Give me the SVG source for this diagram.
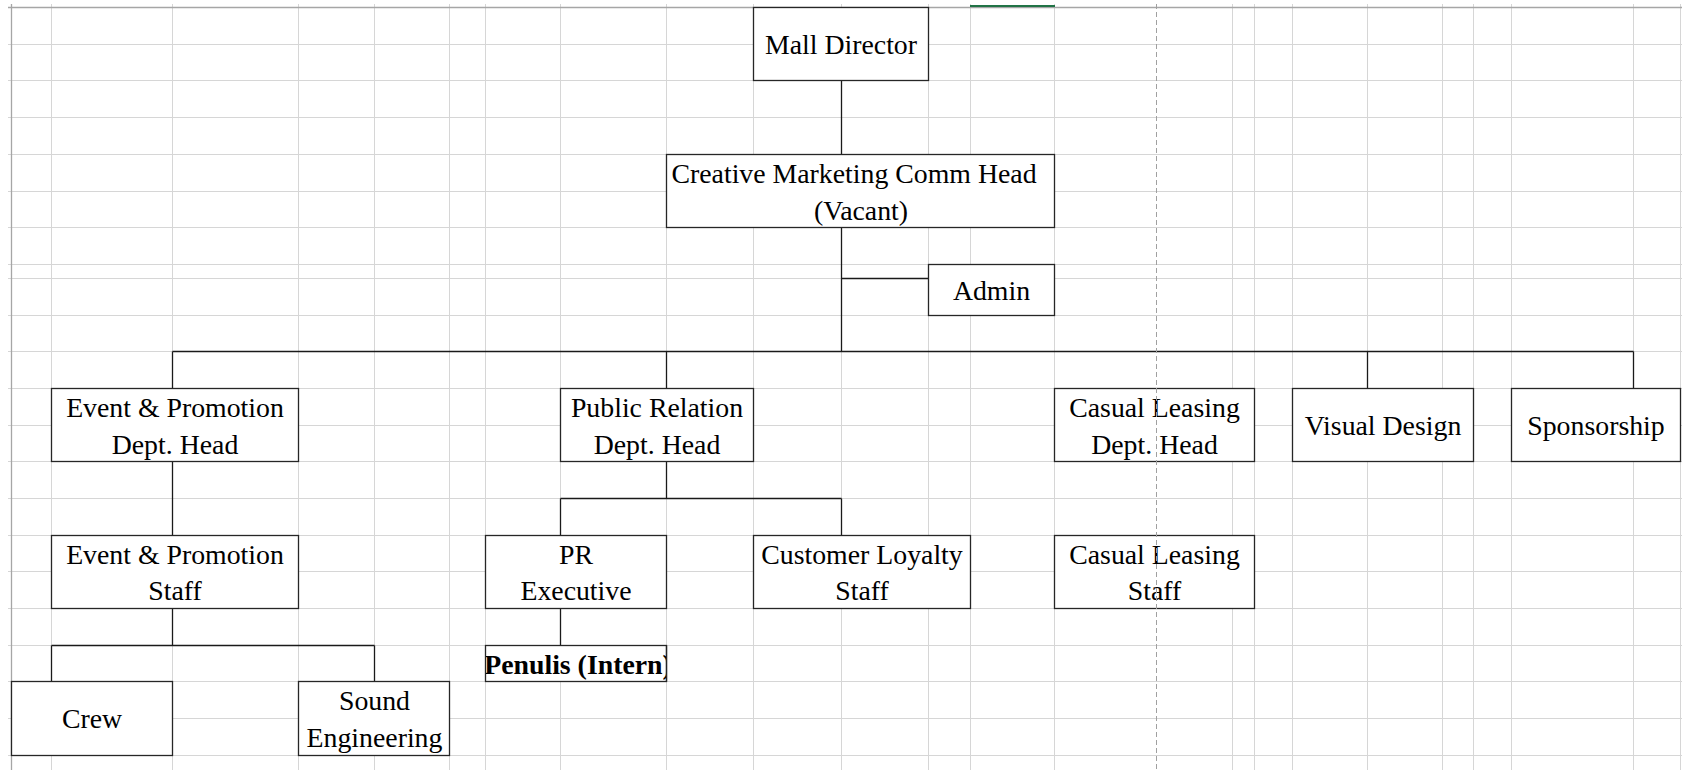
<svg xmlns="http://www.w3.org/2000/svg" width="1682" height="770" viewBox="0 0 1682 770">
<defs>
<style>
.grid{stroke:#d6d6d6;stroke-width:1;fill:none}
.border{stroke:#a6a6a6;stroke-width:1.3;fill:none}
.box{fill:#fff;stroke:#262626;stroke-width:1.3}
.conn{stroke:#1a1a1a;stroke-width:1.3;fill:none}
text{font-family:"Liberation Serif","Times New Roman",serif;font-size:27.8px;fill:#000;text-anchor:middle}
.b{font-weight:bold}
</style>
<clipPath id="clipPen"><rect x="486" y="645" width="181" height="37"/></clipPath>
</defs>
<rect width="1682" height="770" fill="#fff"/>
<g id="grid">
<path class="grid" d="M51.5 4V770M172.5 4V770M298.5 4V770M374.5 4V770M449.5 4V770M485.5 4V770M560.5 4V770M666.5 4V770M753.5 4V770M841.5 4V770M928.5 4V770M970.5 4V770M1054.5 4V770M1232.5 4V770M1254.5 4V770M1292.5 4V770M1367.5 4V770M1442.5 4V770M1473.5 4V770M1511.5 4V770M1633.5 4V770M1680.5 4V770"/>
<path class="grid" d="M8 44.5H1682M8 80.5H1682M8 117.5H1682M8 154.5H1682M8 191.5H1682M8 227.5H1682M8 264.5H1682M8 278.5H1682M8 315.5H1682M8 351.5H1682M8 388.5H1682M8 425.5H1682M8 461.5H1682M8 498.5H1682M8 535.5H1682M8 571.5H1682M8 608.5H1682M8 645.5H1682M8 681.5H1682M8 718.5H1682M8 755.5H1682"/>
<path class="border" d="M8 7.5H1682M11.5 4V770"/>
<line x1="970" y1="6" x2="1055" y2="6" stroke="#217346" stroke-width="2"/>
</g>
<g id="connectors">
<path class="conn" d="M841.5 80.5V154.5M841.5 227.5V351.5M841.5 278.5H928.5M172.5 351.5H1633.5M172.5 351.5V388.5M666.5 351.5V388.5M1367.5 351.5V388.5M1633.5 351.5V388.5M172.5 461.5V535.5M172.5 608.5V645.5M51.5 645.5H374.5M51.5 645.5V681.5M374.5 645.5V681.5M666.5 461.5V498.5M560.5 498.5H841.5M560.5 498.5V535.5M841.5 498.5V535.5M560.5 608.5V645.5"/>
</g>
<g id="mall-director"><rect class="box" x="753.5" y="7.5" width="175" height="73"/><text x="841" y="53.5">Mall Director</text></g>
<g id="creative-head"><rect class="box" x="666.5" y="154.5" width="388" height="73"/><text x="854" y="183">Creative Marketing Comm Head</text><text x="861" y="219.5">(Vacant)</text></g>
<g id="admin"><rect class="box" x="928.5" y="264.5" width="126" height="51"/><text x="991.5" y="299.5">Admin</text></g>
<g id="event-head"><rect class="box" x="51.5" y="388.5" width="247" height="73"/><text x="175" y="417">Event &amp; Promotion</text><text x="175" y="453.5">Dept. Head</text></g>
<g id="pr-head"><rect class="box" x="560.5" y="388.5" width="193" height="73"/><text x="657" y="417">Public Relation</text><text x="657" y="453.5">Dept. Head</text></g>
<g id="casual-head"><rect class="box" x="1054.5" y="388.5" width="200" height="73"/><text x="1154.5" y="417">Casual Leasing</text><text x="1154.5" y="453.5">Dept. Head</text></g>
<g id="visual-design"><rect class="box" x="1292.5" y="388.5" width="181" height="73"/><text x="1383" y="434.5">Visual Design</text></g>
<g id="sponsorship"><rect class="box" x="1511.5" y="388.5" width="169" height="73"/><text x="1596" y="434.5">Sponsorship</text></g>
<g id="event-staff"><rect class="box" x="51.5" y="535.5" width="247" height="73"/><text x="175" y="563.5">Event &amp; Promotion</text><text x="175" y="600">Staff</text></g>
<g id="pr-exec"><rect class="box" x="485.5" y="535.5" width="181" height="73"/><text x="576" y="563.5">PR</text><text x="576" y="600">Executive</text></g>
<g id="customer-loyalty"><rect class="box" x="753.5" y="535.5" width="217" height="73"/><text x="862" y="563.5">Customer Loyalty</text><text x="862" y="600">Staff</text></g>
<g id="casual-staff"><rect class="box" x="1054.5" y="535.5" width="200" height="73"/><text x="1154.5" y="563.5">Casual Leasing</text><text x="1154.5" y="600">Staff</text></g>
<g id="penulis"><rect class="box" x="485.5" y="645.5" width="181" height="36"/><text class="b" x="578" y="673.5" clip-path="url(#clipPen)">Penulis (Intern)</text><line x1="666.5" y1="645.5" x2="666.5" y2="681.5" stroke="#262626" stroke-width="1.3"/></g>
<g id="crew"><rect class="box" x="11.5" y="681.5" width="161" height="74"/><text x="92" y="727.5">Crew</text></g>
<g id="sound-engineering"><rect class="box" x="298.5" y="681.5" width="151" height="74"/><text x="374.5" y="710">Sound</text><text x="374.5" y="746.5">Engineering</text></g>
<line id="page-break" x1="1156.5" y1="4" x2="1156.5" y2="770" stroke="#a0a0a0" stroke-width="1" stroke-dasharray="5,3"/>
</svg>
